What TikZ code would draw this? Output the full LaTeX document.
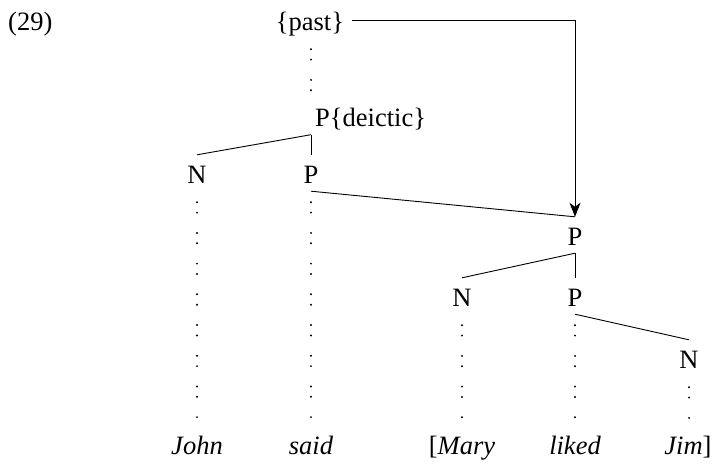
\documentclass[tikz,border=0pt]{standalone}
\usepackage{fontspec}
\setmainfont{Liberation Serif}
\usepackage{tikz}
\usetikzlibrary{arrows.meta,positioning,calc}
\newcommand{\treefont}{\fontsize{26.5}{32}\selectfont}
\tikzset{
  cat/.style={inner sep=0pt, anchor=base, text height=28pt, text depth=8pt, font=\treefont},
  word/.style={cat, font=\treefont\itshape},
  branch/.style={line width=0.9pt, draw=black},
  colons/.style={line width=2.2pt, line cap=round, dash pattern=on 0pt off 10.4pt on 0pt off 20.3pt,
                 shorten <=11pt, shorten >=1pt},
  arr/.style={-{Stealth[length=14pt,width=11pt,inset=4pt]}, line width=0.9pt, shorten <=8pt},
}
\begin{document}
\begin{tikzpicture}[x=1pt, y=-1pt]
        \useasboundingbox (0,0) rectangle (712,466);
        \node[cat, text height=, text depth=, anchor=base west] (ex) at (8,30) {(29)};
        \node[cat] (past) at (310,30) {\{past\}};
        \node[cat, anchor=base west] (pd) at (315,126.5) {P\{deictic\}};
        \node[cat] (n1) at (197,183) {N};
        \node[cat] (p2) at (311,183) {P};
        \node[cat] (p3) at (575,245) {P};
        \node[cat] (n4) at (462,306) {N};
        \node[cat] (p4) at (575,306) {P};
        \node[cat] (n5) at (689,368) {N};
        \node[word] (john) at (197,454) {John};
        \node[word] (said) at (311,454) {said};
        \node[word] (mary) at (462,454) {{\upshape[}Mary};
        \node[word] (liked) at (575,454) {liked};
        \node[word] (jim) at (688,454) {Jim{\upshape]}};
        % tree branches
        \draw[branch] (pd.south -| p2) -- (n1.north);
        \draw[branch] (pd.south -| p2) -- (p2.north);
        \draw[branch] (p2.south) -- (p3.north);
        \draw[branch] (p3.south) -- (n4.north);
        \draw[branch] (p3.south) -- (p4.north);
        \draw[branch] (p4.south) -- (n5.north);
        % dotted links down to the words
        \draw[colons] (past.south -| p2) -- (pd.north -| p2);
        \draw[colons] (n1.south) -- (john.north);
        \draw[colons] (p2.south) -- (said.north);
        \draw[colons] (n4.south) -- (mary.north);
        \draw[colons] (p4.south) -- (liked.north);
        \draw[colons] (n5.south) -- (jim.north -| n5);
        % feature lowering
        \draw[arr] (past.east) -| (p3.north);
      \end{tikzpicture}
\end{document}
